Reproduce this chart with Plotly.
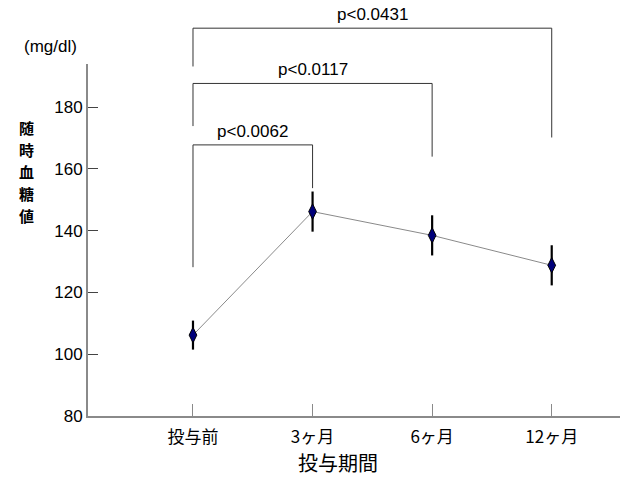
import plotly.graph_objects as go

categories = ["投与前", "3ヶ月", "6ヶ月", "12ヶ月"]
means = [106.2, 146.2, 138.5, 128.8]
errors = [4.7, 6.5, 6.5, 6.5]

y_ticks = [80, 100, 120, 140, 160, 180]
y_range = [80, 194]
x_range = [-0.878, 3.571]

# significance brackets: (left index, right index, label, bar height, left leg bottom, right leg bottom)
br_left = [0, 0, 0]
br_right = [1, 2, 3]
br_labels = ["p<0.0062", "p<0.0117", "p<0.0431"]
br_top = [167.8, 187.7, 205.6]
br_left_bottom = [128.2, 173.9, 193.2]
br_right_bottom = [153.8, 164.0, 170.2]

FONT = "Liberation Sans, Arial, Noto Sans CJK JP, sans-serif"
CJK = "Noto Sans CJK JP, sans-serif"


def yp(v):
    return (v - y_range[0]) / (y_range[1] - y_range[0])


x_idx = list(range(len(categories)))

fig = go.Figure()
fig.add_trace(go.Scatter(
    x=x_idx, y=means,
    mode="lines+markers",
    line=dict(color="#8a8a8a", width=1),
    marker=dict(symbol="diamond-tall", size=11, color="#00007a",
                line=dict(color="#000000", width=1)),
    error_y=dict(type="data", array=errors, visible=True,
                 color="#000000", thickness=2.2, width=0),
    showlegend=False,
))

shapes = []
annotations = []
for l, r, lab, top, lb, rb in zip(br_left, br_right, br_labels, br_top,
                                   br_left_bottom, br_right_bottom):
    line = dict(color="#333333", width=1)
    shapes.append(dict(type="line", xref="x", yref="paper", x0=l, x1=r,
                       y0=yp(top), y1=yp(top), line=line))
    shapes.append(dict(type="line", xref="x", yref="paper", x0=l, x1=l,
                       y0=yp(top), y1=yp(lb), line=line))
    shapes.append(dict(type="line", xref="x", yref="paper", x0=r, x1=r,
                       y0=yp(top), y1=yp(rb), line=line))
    annotations.append(dict(text=lab, xref="x", yref="paper",
                            x=(l + r) / 2, y=yp(top), yanchor="bottom",
                            xanchor="center", yshift=2, showarrow=False,
                            font=dict(family=FONT, size=17, color="#000")))

# y-axis title (vertical stacked characters)
ytitle = "随時血糖値"
for i, ch in enumerate(ytitle):
    annotations.append(dict(text=ch, xref="paper", yref="paper",
                            x=(26 - 88) / 532, y=(416 - (127 + 22 * i)) / 352,
                            xanchor="center", yanchor="middle", showarrow=False,
                            font=dict(family=CJK, size=15, color="#000",
                                      weight="bold")))
annotations.append(dict(text="(mg/dl)", xref="paper", yref="paper",
                        x=(50 - 88) / 532, y=(416 - 46) / 352,
                        xanchor="center", yanchor="middle", showarrow=False,
                        font=dict(family=FONT, size=17, color="#000")))
annotations.append(dict(text="投与期間", xref="paper", yref="paper",
                        x=(338 - 88) / 532, y=(416 - 462) / 352,
                        xanchor="center", yanchor="middle", showarrow=False,
                        font=dict(family=CJK, size=20, color="#000")))

fig.update_layout(
    width=621, height=479,
    margin=dict(l=88, r=1, t=64, b=63),
    paper_bgcolor="white", plot_bgcolor="white",
    font=dict(family=FONT, size=16, color="#000"),
    shapes=shapes, annotations=annotations,
    xaxis=dict(range=x_range, tickvals=x_idx, ticktext=categories,
               showgrid=False, zeroline=False, showline=True,
               linecolor="#8a8a8a", linewidth=2,
               ticks="inside", ticklen=12, tickcolor="#8a8a8a", tickwidth=1,
               ticklabelstandoff=5,
               tickfont=dict(family=CJK, size=17, color="#000")),
    yaxis=dict(range=y_range, tickvals=y_ticks,
               showgrid=False, zeroline=False, showline=True,
               linecolor="#8a8a8a", linewidth=2,
               ticks="inside", ticklen=10, tickcolor="#444444", tickwidth=1,
               tickfont=dict(family=FONT, size=17, color="#000")),
)

fig.write_html("out.html")
